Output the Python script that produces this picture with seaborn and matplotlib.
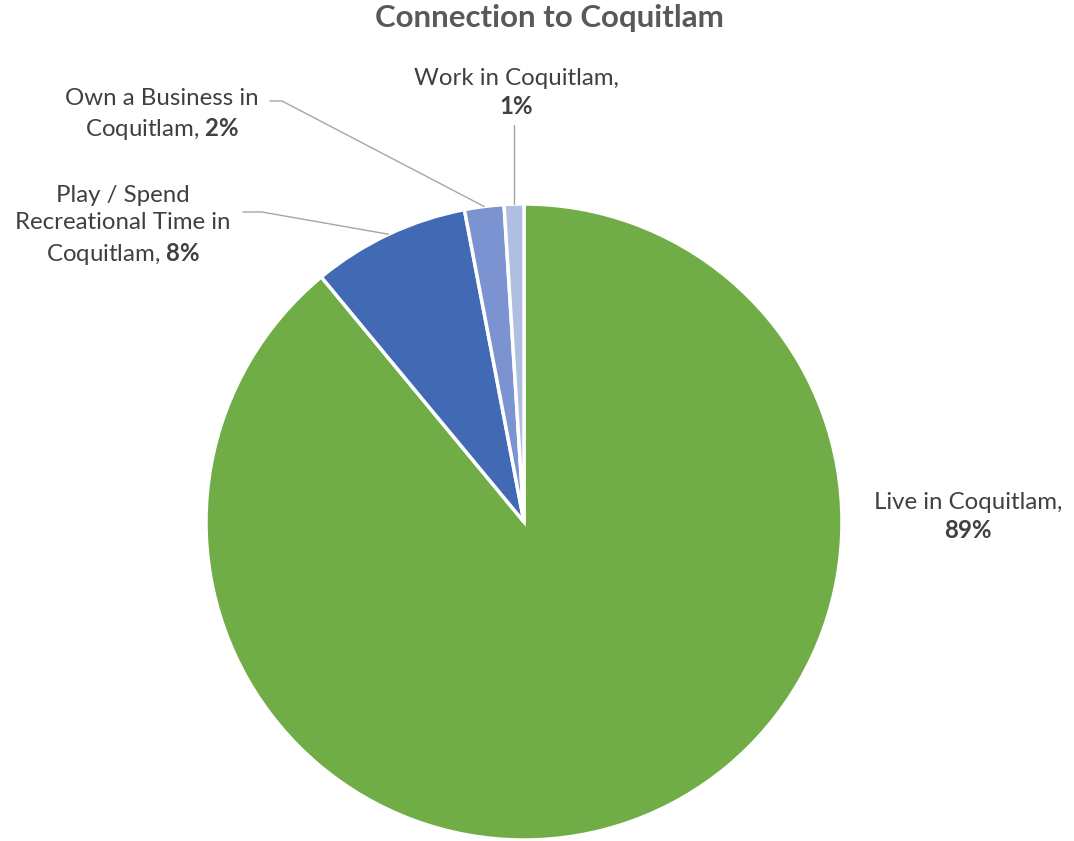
import numpy as np
import matplotlib.pyplot as plt
import seaborn as sns

# Data
categories = ["Live in Coquitlam", "Play / Spend Recreational Time in Coquitlam",
              "Own a Business in Coquitlam", "Work in Coquitlam"]
shares = [89, 8, 2, 1]
label_text = ["Live in Coquitlam,\n$\\mathbf{89\\%}$",
              "Play / Spend\nRecreational Time in\nCoquitlam, $\\mathbf{8\\%}$",
              "Own a Business in\nCoquitlam, $\\mathbf{2\\%}$",
              "Work in Coquitlam,\n$\\mathbf{1\\%}$"]
colors = ["#70AD47", "#4169B4", "#7C93D2", "#B1BEE3"]

sns.set_theme(style="white")
plt.rcParams['font.family'] = ['Lato', 'DejaVu Sans']
plt.rcParams['mathtext.fontset'] = 'custom'
plt.rcParams['mathtext.rm'] = 'Lato'
plt.rcParams['mathtext.bf'] = 'Lato:bold'

W, H = 1074, 841
fig = plt.figure(figsize=(W / 100, H / 100), dpi=100)
ax = fig.add_axes([0, 0, 1, 1])

wedges, _ = ax.pie(shares, colors=colors, startangle=90, counterclock=False,
                   center=(524, H - 522), radius=318,
                   wedgeprops=dict(edgecolor="white", linewidth=2.5))
ax.set_xlim(0, W)
ax.set_ylim(0, H)
ax.set_aspect("equal")
ax.set_axis_off()

def edge_point(w):
    ang = np.deg2rad((w.theta1 + w.theta2) / 2)
    return w.center[0] + w.r * np.cos(ang), w.center[1] + w.r * np.sin(ang)

txt = dict(color="#404040", fontsize=17.3, linespacing=1.37, va="center")

# Live
ax.text(968, H - 517, label_text[0], ha="center", **txt)

# Play / Spend
ax.text(123, H - 226, label_text[1], ha="center", **txt)
x0, y0 = edge_point(wedges[1])
ax.plot([x0, 262, 243], [y0, H - 212, H - 212], color="#A6A6A6", lw=1)

# Own a business
ax.text(162, H - 115, label_text[2], ha="center", **txt)
x0, y0 = edge_point(wedges[2])
ax.plot([x0, 282, 270], [y0, H - 101, H - 101], color="#A6A6A6", lw=1)

# Work
ax.text(516, H - 93, label_text[3], ha="center", **txt)
x0, y0 = edge_point(wedges[3])
ax.plot([x0, x0], [y0, H - 125], color="#A6A6A6", lw=1)

ax.text(549, H - 18, "Connection to Coquitlam", ha="center", va="center",
        fontsize=22.5, fontweight="bold", color="#595959")

fig.savefig("out.png", dpi=100)
